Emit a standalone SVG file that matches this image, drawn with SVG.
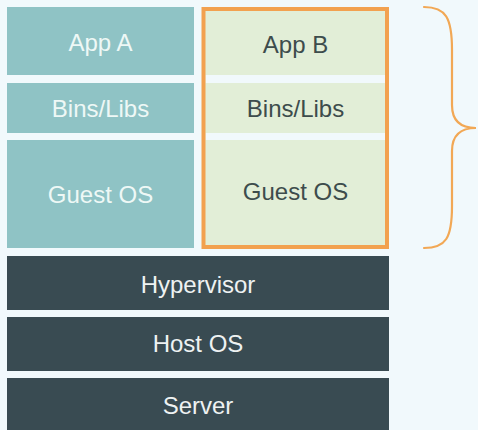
<svg xmlns="http://www.w3.org/2000/svg" width="478" height="430" viewBox="0 0 478 430">
<style>
.teal{fill:#8fc3c5}
.green{fill:#e2eed7}
.dark{fill:#394b52}
.sep{fill:#f1f9fc}
text{font-family:"Liberation Sans",Arial,sans-serif;font-size:24px;text-anchor:middle}
.tl{fill:#eef8f6}
.tg{fill:#3d4c4c}
.td{fill:#eef2f2}
.frame{fill:none;stroke:#f2a14f;stroke-width:4}
.brace{fill:none;stroke:#f2a855;stroke-width:2.2;stroke-linecap:round}
</style>
<rect width="478" height="430" fill="#f1f9fc"/>
<g id="app-a"><rect class="teal" x="7" y="7" width="187" height="68"/><text class="tl" x="100.5" y="51">App A</text></g>
<g id="bins-a"><rect class="teal" x="7" y="83" width="187" height="50"/><text class="tl" x="100.5" y="117">Bins/Libs</text></g>
<g id="guest-a"><rect class="teal" x="7" y="140" width="187" height="108"/><text class="tl" x="100.5" y="203">Guest OS</text></g>
<g id="vm-b">
<rect class="green" x="203.5" y="9" width="183.5" height="238"/>
<rect class="sep" x="205.5" y="75" width="179.5" height="8"/>
<rect class="sep" x="205.5" y="133" width="179.5" height="7"/>
<rect class="frame" x="203.5" y="9" width="183.5" height="238"/>
</g>
<g id="app-b"><text class="tg" x="295.5" y="53">App B</text></g>
<g id="bins-b"><text class="tg" x="295.5" y="117">Bins/Libs</text></g>
<g id="guest-b"><text class="tg" x="295.5" y="200">Guest OS</text></g>
<g id="hypervisor"><rect class="dark" x="7" y="256" width="382" height="54"/><text class="td" x="198" y="293">Hypervisor</text></g>
<g id="host-os"><rect class="dark" x="7" y="317" width="382" height="54"/><text class="td" x="198" y="352">Host OS</text></g>
<g id="server"><rect class="dark" x="7" y="378" width="382" height="60"/><text class="td" x="198" y="414">Server</text></g>
<g id="connectors">
<path class="brace" d="M424,7 C446,7 452,18 452,50 L452,105 C452,120 460,128 476,128 C460,128 452,136 452,151 L452,206 C452,238 446,248 424,248"/>
</g>
</svg>
